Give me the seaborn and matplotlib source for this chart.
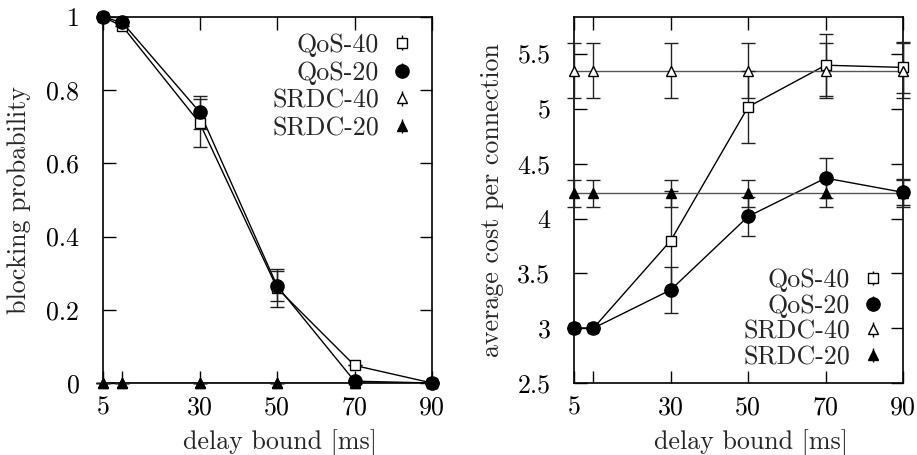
import numpy as np
import pandas as pd
import matplotlib
matplotlib.use("Agg")
import matplotlib.pyplot as plt
import seaborn as sns
from matplotlib.container import ErrorbarContainer
from matplotlib.legend_handler import HandlerErrorbar

# delay bounds [ms] on the x axis
delay = [5, 10, 30, 50, 70, 90]
x_ticks = [5, 10, 30, 50, 70, 90]
x_labels = ["5", "", "30", "50", "70", "90"]

# left panel: blocking probability
block_qos40 = [1.0, 0.975, 0.71, 0.259, 0.048, 0.0]
block_qos40_err = [0.0, 0.0, 0.065, 0.052, 0.0, 0.0]
block_qos20 = [1.0, 0.985, 0.74, 0.265, 0.005, 0.0]
block_qos20_err = [0.0, 0.0, 0.045, 0.04, 0.0, 0.0]
block_srdc40 = [0.0, 0.0, 0.0, 0.0, 0.0, 0.0]
block_srdc20 = [0.0, 0.0, 0.0, 0.0, 0.0, 0.0]
block_ticks = [0, 0.2, 0.4, 0.6, 0.8, 1.0]
block_labels = ["0", "0.2", "0.4", "0.6", "0.8", "1"]

# right panel: average cost per connection
cost_qos40 = [3.0, 3.0, 3.8, 5.02, 5.40, 5.38]
cost_qos40_err = [0.0, 0.0, 0.45, 0.33, 0.285, 0.235]
cost_qos20 = [3.0, 3.0, 3.35, 4.02, 4.37, 4.24]
cost_qos20_err = [0.0, 0.0, 0.21, 0.18, 0.18, 0.12]
cost_srdc40 = [5.35, 5.35, 5.35, 5.35, 5.35, 5.35]
cost_srdc40_err = [0.25, 0.25, 0.25, 0.25, 0.25, 0.25]
cost_srdc20 = [4.23, 4.23, 4.23, 4.23, 4.23, 4.23]
cost_srdc20_err = [0.125, 0.125, 0.125, 0.125, 0.125, 0.125]
cost_ticks = [2.5, 3, 3.5, 4, 4.5, 5, 5.5]
cost_labels = ["2.5", "3", "3.5", "4", "4.5", "5", "5.5"]

FS = 18.7

sns.set_style("ticks")
plt.rcParams["font.family"] = ["cmr10", "DejaVu Serif"]
plt.rcParams["axes.formatter.use_mathtext"] = True
plt.rcParams["font.size"] = FS

fig = plt.figure(figsize=(9.17, 4.55), dpi=100)
ax1 = fig.add_axes([103 / 917, 72 / 455, 329 / 917, 366 / 455])
ax2 = fig.add_axes([574 / 917, 72 / 455, 329 / 917, 366 / 455])

styles = {
    "QoS-40": dict(marker="s", ms=7.5, mfc="white", mec="black", mew=1.0),
    "QoS-20": dict(marker="o", ms=9.5, mfc="black", mec="black", mew=1.0),
    "SRDC-40": dict(marker="^", ms=7, mfc="white", mec="black", mew=1.0),
    "SRDC-20": dict(marker="^", ms=7, mfc="black", mec="black", mew=1.0),
}


def draw_panel(ax, series, line_colors):
    # connecting lines
    for name, (vals, errs) in series.items():
        df = pd.DataFrame({"delay": delay, "value": vals})
        sns.lineplot(data=df, x="delay", y="value", ax=ax, color=line_colors[name],
                     lw=1.0, legend=False, zorder=2)
    # error bars and points (gnuplot does not clip points at the border)
    for name, (vals, errs) in series.items():
        eb = ax.errorbar(delay, vals, yerr=errs, fmt="none", ecolor="#222222",
                         elinewidth=1.0, capsize=5, capthick=1.0, zorder=3)
        for art in eb.get_children():
            art.set_clip_on(False)
        ax.plot(delay, vals, ls="none", zorder=4, clip_on=False, **styles[name])


def style_axes(ax):
    ax.set_xlim(5, 90)
    ax.set_xticks(x_ticks)
    ax.set_xticklabels(x_labels)
    ax.tick_params(direction="in", length=9, width=1.0, top=True, right=True,
                   labelsize=FS, colors="black")
    ax.tick_params(axis="x", pad=9.4)
    ax.tick_params(axis="y", pad=17)
    for sp in ax.spines.values():
        sp.set_linewidth(1.2)
        sp.set_color("black")
    ax.set_xlabel("delay bound [ms]", fontsize=FS)
    ax.xaxis.set_label_coords(0.538, -0.126)


def add_legend(ax, loc, anchor, spacing):
    handles = []
    labels = []
    for name in ["QoS-40", "QoS-20", "SRDC-40", "SRDC-20"]:
        st = {k: v for k, v in styles[name].items() if k != "marker"}
        h = ax.errorbar([], [], yerr=[], fmt=styles[name]["marker"], ls="none",
                        ecolor="black", elinewidth=1.0, capsize=0, **st)
        handles.append(h)
        labels.append(name)
    leg = ax.legend(handles, labels, loc=loc, bbox_to_anchor=anchor, frameon=False,
                    markerfirst=False, handlelength=0.6, handletextpad=0.6,
                    labelspacing=spacing, fontsize=FS, borderpad=0, borderaxespad=0,
                    handler_map={ErrorbarContainer: HandlerErrorbar(xerr_size=0.28)})
    return leg


# left panel
draw_panel(ax1, {
    "QoS-40": (block_qos40, block_qos40_err),
    "QoS-20": (block_qos20, block_qos20_err),
    "SRDC-40": (block_srdc40, [0] * 6),
    "SRDC-20": (block_srdc20, [0] * 6),
}, {"QoS-40": "black", "QoS-20": "black", "SRDC-40": "black", "SRDC-20": "black"})
style_axes(ax1)
ax1.set_ylim(0, 1)
ax1.set_yticks(block_ticks)
ax1.set_yticklabels(block_labels)
ax1.set_ylabel("blocking probability", fontsize=FS)
ax1.yaxis.set_label_coords(-0.219, 0.5)
add_legend(ax1, "upper right", (0.933, 0.956), 0.155)

# right panel
draw_panel(ax2, {
    "QoS-40": (cost_qos40, cost_qos40_err),
    "QoS-20": (cost_qos20, cost_qos20_err),
    "SRDC-40": (cost_srdc40, cost_srdc40_err),
    "SRDC-20": (cost_srdc20, cost_srdc20_err),
}, {"QoS-40": "black", "QoS-20": "black", "SRDC-40": "#555555", "SRDC-20": "#555555"})
style_axes(ax2)
ax2.set_ylim(2.5, 5.84)
ax2.set_yticks(cost_ticks)
ax2.set_yticklabels(cost_labels)
ax2.set_ylabel("average cost per connection", fontsize=FS)
ax2.yaxis.set_label_coords(-0.213, 0.5)
add_legend(ax2, "lower right", (0.933, 0.038), 0.077)

fig.savefig("out.png", dpi=100)
